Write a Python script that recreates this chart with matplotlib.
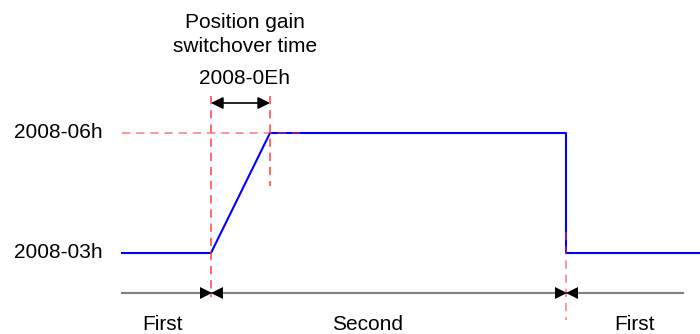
import matplotlib
matplotlib.use("Agg")
import matplotlib.pyplot as plt

# ---- data ----
level_labels = ["2008-03h", "2008-06h"]
level_values = [3, 6]
# signal (time in px-like units, level)
sig_time = [122, 211, 270, 566, 566, 700]
sig_level = [3, 3, 6, 6, 3, 3]
switch_times = [211, 566]          # gain switching instants
ramp_end = 270                     # end of switchover time
axis_start, axis_end = 122, 683
phase_labels = ["First", "Second", "First"]
phase_centers = [162, 368, 634]
title_lines = ["Position gain", "switchover time", "2008-0Eh"]

plt.rcParams['font.family'] = ['Liberation Sans', 'DejaVu Sans']

fig = plt.figure(figsize=(7.0, 3.34), dpi=100)
ax = fig.add_axes([0, 0, 1, 1])
ax.set_xlim(0, 700)
ax.set_ylim(0.975, 9.325)
ax.axis('off')

red = '#ff3333'
fs = 15

# blue signal
ax.plot(sig_time, sig_level, color='#0000ff', lw=1.5, zorder=2)

# red dashed guides
dash = (0, (5, 3.5))
ax.plot([122, 300], [6, 6], color=red, lw=1.2, ls=dash, alpha=0.6, zorder=3)
ax.plot([switch_times[0]] * 2, [6.92, 1.9], color=red, lw=1.2, ls=dash, alpha=0.85, zorder=3)
ax.plot([ramp_end] * 2, [6.92, 4.67], color=red, lw=1.2, ls=dash, alpha=0.85, zorder=3)
ax.plot([switch_times[1]] * 2, [3.52, 1.33], color=red, lw=1.2, ls=dash, alpha=0.6, zorder=3)

# switchover time arrow
ax.annotate('', xy=(switch_times[0], 6.75), xytext=(ramp_end, 6.75),
            arrowprops=dict(arrowstyle='<|-|>', color='black', lw=1.2,
                            mutation_scale=18, shrinkA=0, shrinkB=0))

# time axis
ax.plot([axis_start, axis_end], [2.0, 2.0], color='#808080', lw=1.5, zorder=1)
for t in switch_times:
    ax.plot([t - 5.5], [2.0], marker='>', color='black', ms=9, mew=0, zorder=4)
    ax.plot([t + 5.5], [2.0], marker='<', color='black', ms=9, mew=0, zorder=4)

# level labels
for lab, v in zip(level_labels, level_values):
    ax.text(58, v, lab, ha='center', va='center', fontsize=fs)

# phase labels
for lab, c in zip(phase_labels, phase_centers):
    ax.text(c, 1.2, lab, ha='center', va='center', fontsize=fs)

# title lines
for lab, y in zip(title_lines, [8.775, 8.15, 7.375]):
    ax.text(245, y, lab, ha='center', va='center', fontsize=fs)

fig.savefig('out.png', dpi=100)
